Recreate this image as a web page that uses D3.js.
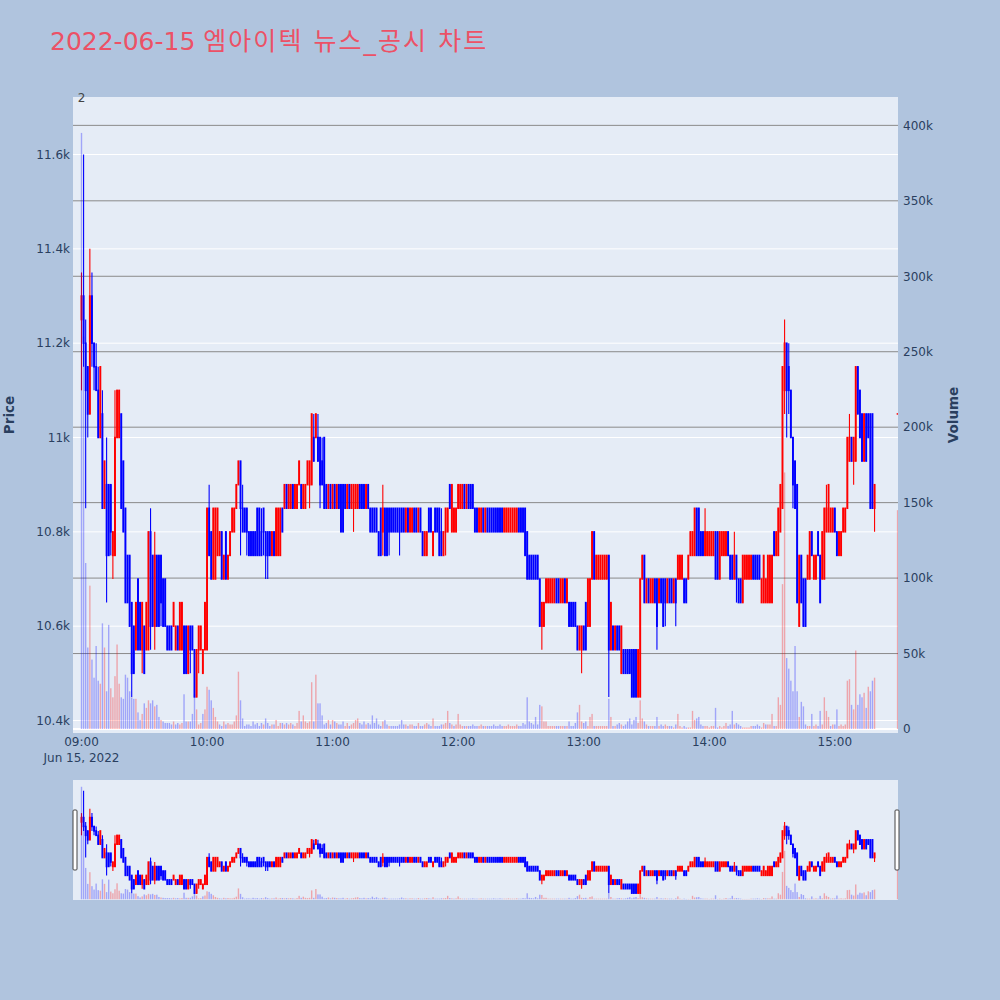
<!DOCTYPE html>
<html><head><meta charset="utf-8">
<script src="https://cdn.jsdelivr.net/npm/d3@7"></script>
<style>body{margin:0;background:#b0c4de;}svg{display:block}</style>
</head><body>
<script>
const titleDate = "2022-06-15";
const titleText = "엠아이텍 뉴스_공시 차트";
const newsCount = "2";
const prevDayClose = 11350;
// minutes after 09:00 (continuous session until 15:19, closing auction at 15:30)
const minutes = [...d3.range(0, 380), 390];
const open = [
11250,11300,11200,11150,11050,11300,11200,11150,11100,11000,
11050,10850,10900,10900,10900,10750,10750,11000,11000,11050,
10950,10850,10750,10750,10650,10600,10550,10700,10650,10550,
10600,10550,10550,10800,10750,10600,10750,10750,10750,10700,
10700,10600,10600,10600,10600,10550,10600,10550,10550,10600,
10600,10500,10600,10600,10550,10450,10550,10550,10500,10550,
10550,10850,10800,10700,10700,10750,10750,10800,10700,10800,
10700,10750,10800,10800,10850,10900,10950,10850,10850,10850,
10800,10800,10800,10800,10850,10850,10800,10850,10800,10800,
10800,10750,10800,10750,10750,10750,10850,10850,10900,10850,
10850,10900,10850,10850,10900,10900,10850,10850,10900,10900,
10900,11000,11000,11000,11000,10950,11000,10900,10850,10900,
10850,10900,10850,10900,10900,10900,10900,10850,10900,10850,
10850,10850,10850,10900,10900,10900,10850,10900,10850,10850,
10850,10850,10800,10850,10800,10850,10850,10850,10850,10850,
10850,10850,10850,10850,10850,10800,10850,10800,10800,10850,
10850,10800,10850,10800,10750,10750,10850,10850,10750,10850,
10850,10850,10800,10750,10800,10800,10900,10800,10800,10800,
10850,10850,10850,10900,10850,10900,10900,10900,10850,10850,
10800,10800,10850,10800,10850,10850,10850,10850,10850,10850,
10850,10850,10800,10800,10800,10800,10800,10800,10800,10850,
10850,10850,10850,10800,10750,10750,10750,10750,10750,10700,
10600,10600,10650,10650,10650,10650,10650,10700,10700,10650,
10650,10700,10650,10650,10650,10650,10650,10600,10550,10550,
10600,10650,10600,10600,10700,10800,10700,10700,10700,10700,
10700,10700,10750,10550,10600,10550,10600,10600,10500,10550,
10550,10550,10550,10550,10550,10550,10450,10450,10700,10750,
10650,10700,10650,10650,10700,10700,10650,10700,10700,10700,
10650,10700,10700,10650,10700,10700,10700,10700,10700,10700,
10700,10750,10750,10750,10850,10850,10800,10800,10750,10750,
10750,10750,10750,10800,10800,10700,10750,10750,10750,10800,
10750,10750,10700,10750,10700,10700,10650,10700,10700,10700,
10700,10750,10750,10750,10750,10650,10650,10650,10650,10650,
10650,10800,10750,10750,10800,10850,11100,11200,11150,11100,
11000,10950,10900,10600,10750,10700,10700,10700,10700,10800,
10700,10700,10800,10750,10700,10700,10800,10800,10800,10800,
10850,10800,10750,10750,10800,10800,10850,10950,11000,10950,
10950,11150,11100,11050,10950,11050,11050,11050,11050,10850,
11050];
const high = [
11350,11600,11250,11150,11400,11350,11200,11200,11150,11150,
11100,10950,11000,10900,10900,10800,11100,11100,11100,11050,
10950,10850,10750,10750,10650,10600,10650,10700,10650,10650,
10600,10650,10800,10850,10750,10800,10750,10750,10750,10700,
10700,10600,10600,10600,10650,10600,10600,10650,10650,10600,
10600,10600,10600,10600,10550,10550,10600,10600,10550,10650,
10850,10900,10800,10850,10850,10850,10800,10800,10750,10800,
10750,10800,10850,10850,10900,10950,10950,10900,10850,10850,
10800,10800,10800,10800,10850,10850,10850,10850,10800,10800,
10800,10800,10800,10850,10850,10850,10850,10900,10900,10900,
10900,10900,10900,10900,10950,10900,10900,10900,10950,10950,
11050,11050,11050,11050,11000,11000,11000,10900,10900,10900,
10900,10900,10900,10900,10900,10900,10900,10900,10900,10900,
10900,10900,10900,10900,10900,10900,10900,10900,10850,10850,
10850,10850,10800,10850,10900,10850,10850,10850,10850,10850,
10850,10850,10850,10850,10850,10850,10850,10850,10850,10850,
10850,10850,10850,10800,10800,10800,10850,10850,10800,10850,
10850,10850,10850,10800,10850,10850,10900,10900,10850,10850,
10900,10900,10900,10900,10900,10900,10900,10900,10850,10850,
10850,10850,10850,10850,10850,10850,10850,10850,10850,10850,
10850,10850,10850,10850,10850,10850,10850,10850,10850,10850,
10850,10850,10850,10800,10750,10750,10750,10750,10750,10700,
10650,10650,10700,10700,10700,10700,10700,10700,10700,10700,
10700,10700,10700,10650,10650,10650,10650,10600,10600,10600,
10600,10650,10700,10700,10800,10800,10750,10750,10750,10750,
10750,10750,10750,10650,10600,10600,10600,10600,10600,10550,
10550,10550,10550,10550,10550,10550,10550,10700,10750,10750,
10700,10700,10700,10700,10700,10700,10700,10700,10700,10700,
10700,10700,10700,10700,10700,10750,10750,10750,10700,10700,
10750,10800,10800,10850,10850,10850,10800,10800,10850,10800,
10800,10800,10800,10800,10800,10800,10800,10800,10800,10800,
10750,10750,10800,10750,10700,10700,10750,10750,10750,10750,
10750,10750,10750,10750,10750,10700,10750,10700,10750,10750,
10750,10800,10800,10850,10900,11150,11250,11200,11200,11100,
11000,10950,10900,10750,10750,10700,10700,10750,10800,10800,
10750,10750,10800,10750,10800,10850,10900,10900,10850,10850,
10850,10800,10800,10800,10850,10850,11000,11050,11000,11000,
11150,11150,11100,11050,11050,11050,11050,11050,11050,10900,
11050];
const low = [
11100,11150,10850,11000,11050,11150,11100,11100,11000,11000,
10850,10850,10650,10750,10750,10700,10750,11000,11000,10850,
10800,10650,10650,10600,10450,10500,10550,10550,10550,10500,
10500,10550,10550,10550,10600,10550,10600,10600,10600,10600,
10600,10550,10550,10550,10600,10550,10550,10550,10550,10500,
10500,10500,10500,10550,10450,10450,10500,10550,10500,10550,
10550,10750,10700,10700,10700,10750,10750,10700,10700,10700,
10700,10750,10800,10800,10850,10900,10750,10800,10800,10750,
10750,10750,10750,10750,10750,10750,10750,10750,10700,10700,
10750,10750,10750,10750,10750,10750,10800,10850,10850,10850,
10850,10850,10850,10850,10900,10850,10850,10850,10900,10850,
10900,10950,11000,10950,10850,10900,10850,10850,10850,10850,
10850,10850,10850,10850,10800,10800,10850,10850,10850,10850,
10800,10850,10850,10850,10850,10850,10850,10850,10800,10800,
10800,10800,10750,10750,10750,10750,10750,10750,10800,10800,
10800,10800,10750,10800,10800,10800,10800,10800,10800,10800,
10800,10800,10800,10750,10750,10750,10800,10800,10750,10800,
10800,10750,10750,10750,10750,10800,10850,10800,10800,10800,
10850,10850,10850,10850,10850,10850,10850,10850,10800,10800,
10800,10800,10800,10800,10800,10800,10800,10800,10800,10800,
10800,10800,10800,10800,10800,10800,10800,10800,10800,10800,
10800,10800,10750,10700,10700,10700,10700,10700,10700,10600,
10550,10600,10650,10650,10650,10650,10650,10650,10650,10650,
10650,10650,10650,10600,10600,10600,10600,10550,10550,10500,
10550,10550,10600,10600,10700,10700,10700,10700,10700,10700,
10700,10700,10450,10550,10550,10550,10550,10550,10500,10500,
10500,10500,10500,10450,10450,10450,10450,10450,10700,10650,
10650,10650,10650,10650,10650,10550,10650,10650,10600,10600,
10650,10650,10650,10650,10600,10700,10700,10700,10650,10650,
10700,10750,10750,10750,10750,10750,10750,10750,10750,10750,
10750,10750,10750,10700,10700,10700,10750,10750,10750,10750,
10700,10700,10700,10650,10650,10650,10650,10700,10700,10700,
10700,10700,10700,10700,10700,10650,10650,10650,10650,10650,
10650,10750,10750,10750,10800,10850,11050,11000,11050,11000,
10850,10850,10650,10600,10650,10600,10600,10700,10700,10750,
10700,10700,10750,10650,10700,10700,10800,10800,10800,10800,
10800,10750,10750,10750,10800,10800,10850,10950,10950,10900,
10950,11050,11000,10950,10950,10950,11000,10850,10850,10800,
11050];
const close = [
11300,11200,11100,11050,11300,11200,11150,11100,11000,11150,
10850,10950,10750,10750,10800,10800,11000,11100,11100,10850,
10800,10650,10650,10600,10500,10500,10650,10550,10550,10650,
10500,10650,10800,10600,10600,10750,10600,10600,10650,10600,
10600,10550,10550,10550,10650,10600,10550,10650,10650,10500,
10500,10600,10550,10550,10450,10550,10600,10600,10550,10650,
10850,10750,10700,10850,10850,10850,10800,10700,10750,10700,
10750,10800,10850,10850,10900,10950,10850,10800,10800,10800,
10750,10750,10750,10750,10750,10750,10750,10800,10750,10750,
10750,10800,10750,10850,10850,10850,10800,10900,10850,10900,
10900,10850,10900,10900,10950,10850,10900,10900,10950,10950,
11050,10950,11050,10950,10900,10900,10850,10850,10900,10850,
10900,10850,10900,10850,10800,10800,10850,10900,10850,10900,
10900,10900,10900,10850,10850,10850,10900,10850,10800,10800,
10800,10800,10750,10750,10850,10750,10750,10800,10800,10800,
10800,10800,10800,10800,10800,10850,10800,10850,10850,10800,
10800,10850,10800,10750,10800,10800,10800,10800,10800,10800,
10800,10750,10750,10800,10850,10850,10850,10900,10850,10850,
10900,10900,10900,10850,10900,10850,10850,10850,10800,10800,
10850,10850,10800,10850,10800,10800,10800,10800,10800,10800,
10800,10800,10850,10850,10850,10850,10850,10850,10850,10800,
10800,10800,10750,10700,10700,10700,10700,10700,10700,10600,
10650,10650,10700,10700,10700,10700,10700,10650,10650,10700,
10700,10650,10700,10600,10600,10600,10600,10550,10600,10600,
10550,10550,10700,10700,10800,10700,10750,10750,10750,10750,
10750,10750,10550,10650,10550,10600,10550,10550,10600,10500,
10500,10500,10500,10450,10450,10450,10550,10700,10750,10650,
10700,10650,10700,10700,10650,10600,10700,10650,10600,10650,
10700,10650,10650,10700,10650,10750,10750,10750,10650,10650,
10750,10800,10800,10850,10750,10750,10750,10750,10800,10800,
10800,10800,10800,10700,10700,10800,10800,10800,10800,10750,
10700,10700,10750,10700,10650,10650,10750,10750,10750,10750,
10750,10700,10700,10700,10700,10700,10750,10700,10750,10750,
10750,10750,10800,10850,10900,11150,11200,11100,11100,11000,
10900,10850,10650,10750,10650,10600,10600,10750,10800,10750,
10750,10750,10750,10650,10800,10850,10850,10900,10850,10850,
10800,10750,10800,10800,10850,10850,11000,11000,10950,11000,
11150,11050,11000,10950,11050,10950,11000,10850,10850,10900,
11050];
// volume in thousands of shares
const volumeK = [
395,260,110,54,95,46,34,55,32,30,
70,54,25,69,27,21,35,56,30,21,
20,36,34,25,21,20,20,11,6,10,
17,14,19,17,19,15,16,8,6,5,
4,4,4,3,5,3,4,3,4,23,
5,5,5,10,23,13,3,4,10,13,
28,26,19,14,8,5,3,2,5,3,
4,3,3,5,9,38,19,7,2,3,
3,2,5,3,4,2,4,3,7,4,
2,3,3,6,2,4,4,3,4,3,
4,3,2,4,12,5,9,5,4,5,
31,5,36,17,17,9,3,4,6,3,
6,5,4,3,3,5,2,4,2,3,
4,6,7,4,3,5,3,4,3,9,
4,7,3,2,5,6,3,2,2,2,
2,2,3,6,3,3,2,3,3,2,
2,4,2,2,3,4,3,2,7,2,
2,2,3,3,4,12,4,3,2,3,
10,3,2,2,2,2,2,3,2,2,
2,3,2,2,2,2,2,3,2,2,
3,2,2,2,3,2,2,2,3,2,
2,4,3,21,5,4,3,8,3,16,
15,5,5,2,2,2,2,2,2,2,
2,2,2,5,2,2,4,11,16,5,
4,5,2,8,10,2,2,2,2,2,
2,2,20,8,2,2,3,4,3,2,
3,5,7,3,6,8,4,19,7,5,
3,2,2,2,2,8,2,3,2,3,
2,2,2,1,3,10,2,1,2,1,
1,1,12,6,7,8,3,2,2,2,
1,2,2,14,1,2,1,2,4,2,
3,12,3,4,3,2,1,1,1,1,
2,2,2,3,2,1,4,3,3,3,
10,2,2,21,16,96,170,47,40,32,
25,55,25,8,18,15,3,2,2,10,
2,3,2,12,3,21,12,8,2,3,
3,13,2,3,2,3,32,33,16,13,
52,16,23,21,24,14,28,25,32,34,
145];
const priceTicks = [10400, 10600, 10800, 11000, 11200, 11400, 11600];
const volumeTicks = [0, 50000, 100000, 150000, 200000, 250000, 300000, 350000, 400000];
const hourTicks = [9, 10, 11, 12, 13, 14, 15];
const dateLabel = "Jun 15, 2022";

const data = minutes.map((m, i) => ({
  t: new Date(2022, 5, 15, 9, m),
  o: open[i], h: high[i], l: low[i], c: close[i], v: volumeK[i] * 1000
}));
data.forEach((d, i) => {
  const pc = i === 0 ? prevDayClose : data[i - 1].c;
  d.up = d.c > d.o || (d.c === d.o && d.c >= pc);
  d.vUp = d.c > pc ? true : d.c < pc ? false : d.up;
});

const RED = "#ff0000", BLUE = "#0000ff";
const FONT = "'DejaVu Sans', 'Noto Sans CJK KR', sans-serif";
const TXT = "#2a3f5f";
const L = 73, R = 898, T = 97, B = 733;
const ST = 780, SB = 900;

const t0 = new Date(2022, 5, 15, 9, 0);
const tm = m => new Date(t0.getTime() + m * 60000);
const x = d3.scaleTime().domain([tm(-4.06), tm(390.2)]).range([L, R]);
const yP = d3.scaleLinear().domain([10373.5, 11722]).range([B, T]);
const yV = d3.scaleLinear().domain([-2650, 418800]).range([B, T]);
const yPs = d3.scaleLinear().domain([10373.5, 11722]).range([SB, ST]);
const yVs = d3.scaleLinear().domain([-2650, 418800]).range([SB, ST]);

const svg = d3.select("body").append("svg").attr("width", 1000).attr("height", 1000)
  .style("font-family", FONT);
svg.append("rect").attr("width", 1000).attr("height", 1000).attr("fill", "#b0c4de");

const defs = svg.append("defs");
defs.append("clipPath").attr("id", "cm").append("rect")
  .attr("x", L).attr("y", T).attr("width", R - L).attr("height", B - T);
defs.append("clipPath").attr("id", "cs").append("rect")
  .attr("x", L).attr("y", ST).attr("width", R - L).attr("height", SB - ST);

// title
const title = svg.append("text").attr("x", 50).attr("y", 50).attr("font-size", 25)
  .attr("fill", "#ec5166");
title.append("tspan").text(titleDate + " ");
const kt = title.append("tspan").text(titleText);
const ktLen = kt.node().getComputedTextLength();
const ktTarget = 285;
kt.attr("letter-spacing", Math.max(0, (ktTarget - ktLen) / titleText.length));

// main plot background
svg.append("rect").attr("x", L).attr("y", T).attr("width", R - L).attr("height", B - T).attr("fill", "#e5ecf6");
const grid = svg.append("g");
grid.selectAll("line.pg").data(priceTicks).join("line")
  .attr("x1", L).attr("x2", R).attr("y1", d => yP(d)).attr("y2", d => yP(d))
  .attr("stroke", "#fff").attr("stroke-width", 1);
grid.selectAll("line.vg").data(volumeTicks.filter(v => v > 0)).join("line")
  .attr("x1", L).attr("x2", R).attr("y1", d => yV(d)).attr("y2", d => yV(d))
  .attr("stroke", "#8a8a8a").attr("stroke-width", 1);
grid.append("line").attr("x1", L).attr("x2", R).attr("y1", yV(0)).attr("y2", yV(0))
  .attr("stroke", "#fff").attr("stroke-width", 2);

function drawSeries(g, yp, yv, bodyW, wickW, barW) {
  g.selectAll("line.wick").data(data).join("line").attr("class", "wick")
    .attr("x1", d => x(d.t)).attr("x2", d => x(d.t))
    .attr("y1", d => yp(d.h)).attr("y2", d => yp(d.l))
    .attr("stroke", d => d.up ? RED : BLUE).attr("stroke-width", wickW);
  g.selectAll("rect.body").data(data).join("rect").attr("class", "body")
    .attr("x", d => x(d.t) - bodyW / 2).attr("width", bodyW)
    .attr("y", d => yp(Math.max(d.o, d.c)) - 0.75)
    .attr("height", d => Math.abs(yp(d.o) - yp(d.c)) + 1.5)
    .attr("fill", d => d.up ? RED : BLUE);
  g.selectAll("rect.vol").data(data).join("rect").attr("class", "vol")
    .attr("x", d => x(d.t) - barW / 2).attr("width", barW)
    .attr("y", d => yv(d.v)).attr("height", d => yv(0) - yv(d.v))
    .attr("fill", d => d.vUp ? RED : BLUE).attr("fill-opacity", 0.3);
}
drawSeries(svg.append("g").attr("clip-path", "url(#cm)"), yP, yV, 1.9, 1.1, 1.4);

// annotation
svg.append("text").attr("x", x(tm(0))).attr("y", 102).attr("text-anchor", "middle")
  .attr("font-size", 12).attr("fill", "#444").text(newsCount);

// axes labels
const fmt = d3.format("~s");
svg.selectAll("text.yl").data(priceTicks).join("text")
  .attr("x", 70).attr("y", d => yP(d) + 4.3).attr("text-anchor", "end")
  .attr("font-size", 12).attr("fill", TXT).text(d => fmt(d));
svg.selectAll("text.yr").data(volumeTicks).join("text")
  .attr("x", 903).attr("y", d => yV(d) + 4.3).attr("text-anchor", "start")
  .attr("font-size", 12).attr("fill", TXT).text(d => fmt(d));
const hf = d3.timeFormat("%H:%M");
svg.selectAll("text.xl").data(hourTicks).join("text")
  .attr("x", h => x(new Date(2022, 5, 15, h, 0))).attr("y", 746).attr("text-anchor", "middle")
  .attr("font-size", 12).attr("fill", TXT).text(h => hf(new Date(2022, 5, 15, h, 0)));
svg.append("text").attr("x", x(new Date(2022, 5, 15, 9, 0))).attr("y", 762).attr("text-anchor", "middle")
  .attr("font-size", 12).attr("fill", TXT).text(dateLabel);
svg.append("text").attr("transform", "translate(14," + ((T + B) / 2) + ") rotate(-90)")
  .attr("text-anchor", "middle").attr("font-size", 13.5).attr("font-weight", "bold")
  .attr("fill", TXT).text("Price");
svg.append("text").attr("transform", "translate(958," + ((T + B) / 2) + ") rotate(-90)")
  .attr("text-anchor", "middle").attr("font-size", 13.5).attr("font-weight", "bold")
  .attr("fill", TXT).text("Volume");

// range slider
svg.append("rect").attr("x", L).attr("y", ST).attr("width", R - L).attr("height", SB - ST).attr("fill", "#e5ecf6");
drawSeries(svg.append("g").attr("clip-path", "url(#cs)"), yPs, yVs, 1.9, 1.1, 1.4);
[L, R - 3].forEach(hx => {
  svg.append("rect").attr("x", hx).attr("y", 810).attr("width", 4).attr("height", 60)
    .attr("fill", "#fff").attr("stroke", "#444").attr("stroke-width", 1).attr("rx", 1);
});
</script>
</body></html>
